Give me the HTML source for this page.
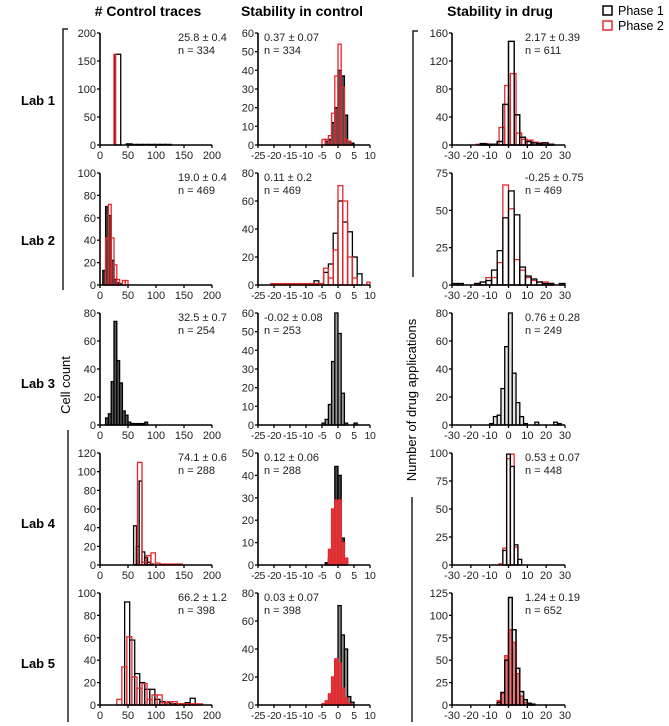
<!DOCTYPE html>
<html><head><meta charset="utf-8"><style>
html,body{margin:0;padding:0;background:#fff;overflow:hidden;}
svg{display:block;font-family:"Liberation Sans",Arial,sans-serif;}
</style></head><body>
<svg id="chart" width="669" height="726" viewBox="0 0 669 726"></svg>
<script>
// ---- data: [start, binWidth] and counts ----
const lab1CtrlBlackBins=[27,10]; const lab1CtrlBlack=[162,0,2,1,1,1,1,1,1,1];
const lab1CtrlRedBins=[25,3]; const lab1CtrlRed=[162];
const lab2CtrlBlackBins=[5,5]; const lab2CtrlBlack=[13,70,62,22,5,2,1];
const lab2CtrlRedBins=[10,5]; const lab2CtrlRed=[42,72,42,18,5,0,4,4];
const lab3CtrlBlackBins=[10,5]; const lab3CtrlBlack=[5,8,31,74,46,30,10,7,2,1,1,1,1,1,2];
const lab4CtrlBlackBins=[60,5]; const lab4CtrlBlack=[42,20,90,14,8,3,1];
const lab4CtrlRedBins=[67,8]; const lab4CtrlRed=[110,3,10,13,2,1,1,1,1,1];
const lab5CtrlBlackBins=[44,9]; const lab5CtrlBlack=[92,58,28,20,14,14,5,3,2,1,1,1,2,6];
const lab5CtrlRedBins=[30,9]; const lab5CtrlRed=[5,34,61,25,15,19,5,9,9,2,3,3,1,1,1,1,1];

const lab1StabBlackBins=[-4,1]; const lab1StabBlack=[2,3,12,20,40,37,16,2,1];
const lab1StabRedBins=[-5,1]; const lab1StabRed=[3,3,5,17,37,54,31,3,2];
const lab2StabBlackBins=[-9,1.5]; const lab2StabBlack=[1,3,0,9,15,37,60,45,38,20,8];
const lab2StabRedBins=[-21,1.5]; const lab2StabRed=[1,1,1,1,1,1,1,1,1,1,1,12,5,25,71,60,20,5,0,0,2];
const lab3StabBlackBins=[-5,1]; const lab3StabBlack=[1,3,11,34,60,49,17,1,0,0,1];
const lab4StabBlackBins=[-4,1]; const lab4StabBlack=[1,3,20,44,40,12,3];
const lab4StabRedBins=[-3,1]; const lab4StabRed=[7,25,29,29,10,3];
const lab5StabBlackBins=[-4,1]; const lab5StabBlack=[1,2,10,32,71,50,40,6,2];
const lab5StabRedBins=[-5,1]; const lab5StabRed=[1,3,8,20,33,30,12,5,1];

const lab1DrugBlackBins=[-30,3]; const lab1DrugBlack=[0,0,0,0,0,2,1,1,5,58,148,43,11,5,3,2,3,1,0,0];
const lab1DrugRedBins=[-29,3]; const lab1DrugRed=[0,0,0,0,1,2,1,0,25,85,102,17,8,7,4,3,1,0,0,0];
const lab2DrugBlackBins=[-30,3]; const lab2DrugBlack=[1,1,0,0,1,2,3,10,23,45,63,47,12,6,4,2,1,1,0,1];
const lab2DrugRedBins=[-30,3]; const lab2DrugRed=[0,0,0,0,1,2,5,5,15,67,51,17,10,5,3,2,2,1,0,0];
const lab3DrugBlackBins=[-10,2]; const lab3DrugBlack=[1,6,7,26,56,80,37,16,6,1,0,0,2,0,0,0,0,2,1];
const lab4DrugBlackBins=[-5,2]; const lab4DrugBlack=[0,13,99,88,18,5];
const lab4DrugRedBins=[-5,2]; const lab4DrugRed=[1,15,95,99,16,0];
const lab5DrugBlackBins=[-6,2]; const lab5DrugBlack=[3,14,50,120,84,41,15,6,2,1];
const lab5DrugRedBins=[-6,2]; const lab5DrugRed=[5,13,55,84,70,35,10,3,1,1];

const ctrlYTicks=[[0,50,100,150,200],[0,20,40,60,80,100],[0,20,40,60,80],[0,20,40,60,80,100,120],[0,20,40,60,80,100]];
const stabYTicks=[[0,10,20,30,40,50,60],[0,20,40,60,80],[0,10,20,30,40,50,60],[0,10,20,30,40,50],[0,20,40,60,80]];
const drugYTicks=[[0,40,80,120,160],[0,25,50,75],[0,20,40,60,80],[0,25,50,75,100],[0,25,50,75,100,125]];
const ctrlAnn=[["25.8 ± 0.4","n = 334"],["19.0 ± 0.4","n = 469"],["32.5 ± 0.7","n = 254"],["74.1 ± 0.6","n = 288"],["66.2 ± 1.2","n = 398"]];
const stabAnn=[["0.37 ± 0.07","n = 334"],["0.11 ± 0.2","n = 469"],["-0.02 ± 0.08","n = 253"],["0.12 ± 0.06","n = 288"],["0.03 ± 0.07","n = 398"]];
const drugAnn=[["2.17 ± 0.39","n = 611"],["-0.25 ± 0.75","n = 469"],["0.76 ± 0.28","n = 249"],["0.53 ± 0.07","n = 448"],["1.24 ± 0.19","n = 652"]];
const ctrlXTicks=[0,50,100,150,200];
const stabXTicks=[-25,-20,-15,-10,-5,0,5,10];
const drugXTicks=[-30,-20,-10,0,10,20,30];

const NS="http://www.w3.org/2000/svg";
const svg=document.getElementById('chart');
function mk(tag,attrs,parent){const e=document.createElementNS(NS,tag);for(const k in attrs)e.setAttribute(k,attrs[k]);(parent||svg).appendChild(e);return e;}
function txt(s,attrs,parent){const e=mk('text',attrs,parent);e.textContent=s;return e;}

const cols=[
 {key:'control-traces',x0:100,x1:212,xmin:0,xmax:200,xt:ctrlXTicks,ann:178,yt:ctrlYTicks,an:ctrlAnn,xfs:11},
 {key:'stability-control',x0:258,x1:370,xmin:-25,xmax:10,xt:stabXTicks,ann:264,yt:stabYTicks,an:stabAnn,xfs:10.5},
 {key:'stability-drug',x0:452,x1:565,xmin:-30,xmax:30,xt:drugXTicks,ann:525,yt:drugYTicks,an:drugAnn,xfs:11}
];
const W='#fff',LG='#e6e6e6',R='#e8262b';
const series=[
 [[{b:lab1CtrlBlackBins,v:lab1CtrlBlack,s:'#000',f:W},{b:lab1CtrlRedBins,v:lab1CtrlRed,s:R,f:'none'}],
  [{b:lab1StabBlackBins,v:lab1StabBlack,s:'#000',f:'#555'},{b:lab1StabRedBins,v:lab1StabRed,s:R,f:'none'}],
  [{b:lab1DrugBlackBins,v:lab1DrugBlack,s:'#000',f:W},{b:lab1DrugRedBins,v:lab1DrugRed,s:R,f:'none'},{b:lab1DrugBlackBins,v:lab1DrugBlack,s:'#000',f:'none'}]],
 [[{b:lab2CtrlBlackBins,v:lab2CtrlBlack,s:'#000',f:'#444'},{b:lab2CtrlRedBins,v:lab2CtrlRed,s:R,f:'none'}],
  [{b:lab2StabBlackBins,v:lab2StabBlack,s:'#000',f:W},{b:lab2StabRedBins,v:lab2StabRed,s:R,f:'none'}],
  [{b:lab2DrugRedBins,v:lab2DrugRed,s:R,f:W},{b:lab2DrugBlackBins,v:lab2DrugBlack,s:'#000',f:'none'}]],
 [[{b:lab3CtrlBlackBins,v:lab3CtrlBlack,s:'#000',f:'#555'}],
  [{b:lab3StabBlackBins,v:lab3StabBlack,s:'#000',f:'#999'}],
  [{b:lab3DrugBlackBins,v:lab3DrugBlack,s:'#000',f:LG}]],
 [[{b:lab4CtrlBlackBins,v:lab4CtrlBlack,s:'#000',f:W},{b:lab4CtrlRedBins,v:lab4CtrlRed,s:R,f:'none'}],
  [{b:lab4StabBlackBins,v:lab4StabBlack,s:'#000',f:'#444'},{b:lab4StabRedBins,v:lab4StabRed,s:R,f:'#d8393c'}],
  [{b:lab4DrugRedBins,v:lab4DrugRed,s:R,f:W},{b:lab4DrugBlackBins,v:lab4DrugBlack,s:'#000',f:'none'}]],
 [[{b:lab5CtrlBlackBins,v:lab5CtrlBlack,s:'#000',f:W},{b:lab5CtrlRedBins,v:lab5CtrlRed,s:R,f:'none'}],
  [{b:lab5StabBlackBins,v:lab5StabBlack,s:'#000',f:'#888'},{b:lab5StabRedBins,v:lab5StabRed,s:R,f:'#d8393c'}],
  [{b:lab5DrugBlackBins,v:lab5DrugBlack,s:'#000',f:LG},{b:lab5DrugRedBins,v:lab5DrugRed,s:R,f:'rgba(232,38,43,0.6)'},{b:lab5DrugBlackBins,v:lab5DrugBlack,s:'#000',f:'none'}]]
];

for(let r=0;r<5;r++){
  const top=33+140*r, bot=145+140*r;
  for(let c=0;c<3;c++){
    const C=cols[c];
    const g=mk('g',{});
    
    
    const yt=C.yt[r], ymax=yt[yt.length-1];
    const X=v=>C.x0+(v-C.xmin)/(C.xmax-C.xmin)*(C.x1-C.x0);
    const Y=v=>bot-v/ymax*(bot-top);
    series[r][c].forEach(S=>{
      const sg=mk('g',{},g);
      
      
      S.v.forEach((v,i)=>{
        if(v<=0)return;
        const a=Math.max(C.xmin,S.b[0]+i*S.b[1]), b=Math.min(C.xmax,S.b[0]+(i+1)*S.b[1]);
        if(b<=a)return;
        const vv=Math.min(v,ymax);
        const rc=mk('rect',{x:X(a),y:Y(vv),width:X(b)-X(a),height:bot-Y(vv),fill:S.f,stroke:S.s,'stroke-width':1.3},sg);
        
        
      });
    });
    const ax=mk('path',{d:`M${C.x0},${top} V${bot} H${C.x1}`,fill:'none',stroke:'#000','stroke-width':1.6},g);
    
    
    yt.forEach(t=>{
      mk('line',{x1:C.x0-3,x2:C.x0,y1:Y(t),y2:Y(t),stroke:'#000','stroke-width':1.3},g);
      const tl=txt(String(t),{x:C.x0-4,y:Y(t)+4,'text-anchor':'end','font-size':11,fill:'#222'},g);
      
      
    });
    C.xt.forEach(t=>{
      mk('line',{x1:X(t),x2:X(t),y1:bot,y2:bot+3,stroke:'#000','stroke-width':1.3},g);
      const tl=txt(String(t),{x:X(t),y:bot+14,'text-anchor':'middle','font-size':C.xfs,'letter-spacing':c===1?-0.4:0,fill:'#222'},g);
      
      
    });
    const a1=txt(C.an[r][0],{x:C.ann,y:top+8,'font-size':11,fill:'#222'},g);
    
    
    const a2=txt(C.an[r][1],{x:C.ann,y:top+21,'font-size':11,fill:'#222'},g);
    
    
  }
  const lab=txt('Lab '+(r+1),{x:38,y:[105,245,388,528,668][r],'text-anchor':'middle','font-size':13,'font-weight':'bold'});
  
  
}

(function(){
 const add=(s,a,n)=>{const e=txt(s,a);};
 add('# Control traces',{x:148,y:16,'text-anchor':'middle','font-size':14,'font-weight':'bold'},'column-title-control-traces');
 add('Stability in control',{x:302,y:16,'text-anchor':'middle','font-size':14,'font-weight':'bold'},'column-title-stability-control');
 add('Stability in drug',{x:500,y:16,'text-anchor':'middle','font-size':14,'font-weight':'bold'},'column-title-stability-drug');
 add('Cell count',{x:70,y:385,'text-anchor':'middle','font-size':13,transform:'rotate(-90 70 385)'},'y-axis-title-cell-count');
 add('Number of drug applications',{x:416,y:400,'text-anchor':'middle','font-size':13,transform:'rotate(-90 416 400)'},'y-axis-title-drug-applications');
 add('Phase 1',{x:618,y:15,'font-size':12.5},'legend-label-phase1');
 add('Phase 2',{x:618,y:30,'font-size':12.5},'legend-label-phase2');
 const mkp=(d,st,n)=>{const e=mk('path',{d:d,fill:'none',stroke:st,'stroke-width':1.5});};
 mkp('M68,29 H63 V290','#222','bracket-phase1-left');
 mkp('M68,430 V722','#222','bracket-phase2-left');
 mkp('M418,31 H413 V277','#222','bracket-phase1-right');
 mkp('M412,497 V722','#222','bracket-phase2-right');
 mkp('M603,6 h9 v9 h-9 z','#000','legend-swatch-phase1');
 mkp('M603,21 h9 v9 h-9 z',R,'legend-swatch-phase2');
})();
</script>
</body></html>
